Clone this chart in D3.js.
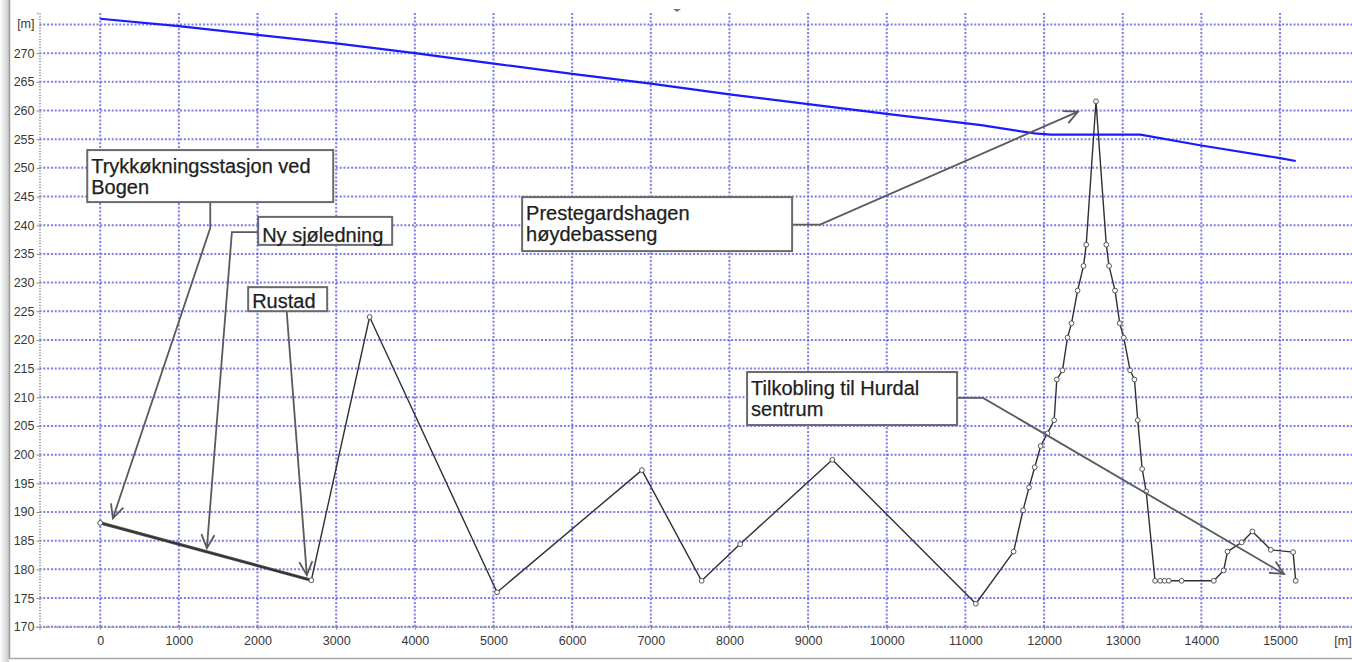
<!DOCTYPE html>
<html>
<head>
<meta charset="utf-8">
<script src="https://cdn.jsdelivr.net/npm/d3@7"></script>
<style>
  html, body { margin: 0; padding: 0; background: #ffffff; }
  svg { display: block; }
</style>
</head>
<body>
<svg id="chart" width="1352" height="662"></svg>
<script>
// ---------- DATA ----------
// Terrain / pipe profile: chainage [m] and elevation [m]
const profileX = [0, 2684, 3425, 5045, 6887, 7646, 8136, 9308, 11133, 11613, 11733, 11809, 11881, 11957,
  12043, 12128, 12162, 12234, 12298, 12349, 12426, 12502, 12536, 12660, 12791, 12826, 12902, 12962,
  13013, 13094, 13149, 13191, 13247, 13298, 13411, 13476, 13531, 13586, 13749, 14158, 14283, 14332,
  14512, 14649, 14883, 15166, 15199];
const profileZ = [188.1, 178.1, 224.0, 176.0, 197.3, 178.0, 184.4, 199.1, 174.0, 183.1, 190.3, 194.3, 197.8, 201.5,
  203.7, 206.0, 213.1, 214.7, 220.4, 222.9, 228.6, 232.9, 236.6, 261.6, 236.6, 232.9, 228.6, 222.9,
  220.4, 214.7, 213.1, 206.0, 197.5, 193.6, 178.0, 178.0, 178.0, 178.0, 178.0, 178.0, 179.8, 183.1,
  184.7, 186.6, 183.4, 183.0, 178.0];
// New sea pipeline section (drawn heavier)
const seaPipeX = [0, 2684];
const seaPipeZ = [188.1, 178.1];
// Hydraulic grade line (blue)
const hglX = [0, 1000, 2000, 3000, 4000, 5100, 6000, 7000, 8000, 9000, 10000, 11200, 11880, 12085, 13225, 14000, 15000, 15200];
const hglZ = [276.0, 274.7, 273.2, 271.7, 270.0, 268.0, 266.4, 264.7, 262.8, 261.1, 259.4, 257.45, 256.0, 255.8, 255.8, 253.9, 251.7, 251.2];
// Axis ticks
const xTicks = [0, 1000, 2000, 3000, 4000, 5000, 6000, 7000, 8000, 9000, 10000, 11000, 12000, 13000, 14000, 15000];
const yTicks = [170, 175, 180, 185, 190, 195, 200, 205, 210, 215, 220, 225, 230, 235, 240, 245, 250, 255, 260, 265, 270];
const unitLabel = "[m]";
// Annotation texts and the point (chainage, elevation) each arrow points at
const annoLines = [
  ["Trykkøkningsstasjon ved", "Bogen"],
  ["Ny sjøledning"],
  ["Rustad"],
  ["Prestegardshagen", "høydebasseng"],
  ["Tilkobling til Hurdal", "sentrum"]
];
const annoTipX = [161, 1356, 2627, 12432, 15050];
const annoTipZ = [188.9, 183.7, 179.0, 259.8, 179.2];

// ---------- LAYOUT ----------
const svg = d3.select("#chart");
const plot = { left: 39.5, right: 1352, top: 13, bottom: 626.7 };
const x = d3.scaleLinear().domain([-772, 15915]).range([plot.left, plot.right]);
const y = d3.scaleLinear().domain([170, 277]).range([plot.bottom, plot.top]);

// annotation box layout: anchor (data coords of box top-left), size in px, leader style
const annoLayout = [
  { bx: -165, bz: 253.1, w: 246, h: 52, leader: "bottom", ex: 1398, ez: 239.5, lx: 123 },
  { bx: 2008, bz: 241.45, w: 134, h: 28, leader: "left", ex: 1674, ez: 238.8 },
  { bx: 1881, bz: 229.2, w: 79, h: 24, leader: "bottom", lx: 38.5 },
  { bx: 5364, bz: 244.9, w: 270, h: 54, leader: "right", ex: 9152, ez: 240.1 },
  { bx: 8224, bz: 214.4, w: 210, h: 53, leader: "right", ex: 11224, ez: 209.9 }
];

// ---------- FRAME ----------
const defs = svg.append("defs");
const grad = defs.append("linearGradient").attr("id", "shadow").attr("x1", "0").attr("x2", "1");
grad.append("stop").attr("offset", "0").attr("stop-color", "#ffffff");
grad.append("stop").attr("offset", "1").attr("stop-color", "#c9c9c9");
svg.append("rect").attr("x", 0).attr("y", 0).attr("width", 9).attr("height", 662).attr("fill", "url(#shadow)");
svg.append("line").attr("x1", 9.5).attr("x2", 9.5).attr("y1", 0).attr("y2", 659)
  .attr("stroke", "#9a9a9a").attr("stroke-width", 1.5);
svg.append("line").attr("x1", 9).attr("x2", 1352).attr("y1", 658.5).attr("y2", 658.5)
  .attr("stroke", "#a8a8a8").attr("stroke-width", 1.5);

// ---------- GRID ----------
const gridColor = "#5c5ce6";
const grid = svg.append("g");
grid.selectAll("line.vg").data(xTicks).join("line")
  .attr("x1", d => x(d)).attr("x2", d => x(d))
  .attr("y1", plot.top).attr("y2", plot.bottom)
  .attr("stroke", gridColor).attr("stroke-width", 2).attr("stroke-dasharray", "2 1.8").attr("opacity", 0.8);
grid.selectAll("line.hg").data(yTicks.concat([275])).join("line")
  .attr("x1", plot.left).attr("x2", plot.right)
  .attr("y1", d => y(d)).attr("y2", d => y(d))
  .attr("stroke", gridColor).attr("stroke-width", 2).attr("stroke-dasharray", "2 1.8").attr("opacity", 0.8);

// ---------- AXES ----------
const axisColor = "#8a8a8a";
const labelFont = "'Liberation Sans', Arial, sans-serif";
const yAxis = d3.axisLeft(y).tickValues(yTicks).tickSize(3).tickFormat(d3.format("d"));
const gy = svg.append("g").attr("transform", `translate(${plot.left},0)`).call(yAxis);
const xAxis = d3.axisBottom(x).tickValues(xTicks).tickSize(3).tickPadding(6).tickFormat(d3.format("d"));
const gx = svg.append("g").attr("transform", `translate(0,${plot.bottom})`).call(xAxis);
[gx, gy].forEach(g => {
  g.select(".domain").attr("stroke", axisColor).attr("stroke-width", 1.5).attr("stroke-dasharray", "1.2 1.6");
  g.selectAll(".tick line").attr("stroke", axisColor);
  g.selectAll(".tick text").attr("fill", "#383838")
    .style("font-family", labelFont).style("font-size", "12.5px");
});
gy.selectAll(".tick text").attr("x", -5);
// unit labels
svg.append("text").attr("x", plot.left - 5).attr("y", y(275)).attr("dy", "0.32em")
  .attr("text-anchor", "end").attr("fill", "#383838")
  .style("font-family", labelFont).style("font-size", "12.5px").text(unitLabel);
svg.append("text").attr("x", 1343).attr("y", plot.bottom + 9).attr("dy", "0.71em")
  .attr("text-anchor", "middle").attr("fill", "#383838")
  .style("font-family", labelFont).style("font-size", "12.5px").text(unitLabel);
// small mark at the top
svg.append("path").attr("d", "M673,9 L681,9 L677,12 Z").attr("fill", "#777");

// ---------- PROFILE ----------
const profile = profileX.map((v, i) => [v, profileZ[i]]);
const line = d3.line().x(d => x(d[0])).y(d => y(d[1]));
svg.append("path").datum(seaPipeX.map((v, i) => [v, seaPipeZ[i]]))
  .attr("d", line).attr("fill", "none").attr("stroke", "#555").attr("stroke-width", 3.2);
svg.append("path").datum(profile).attr("d", line)
  .attr("fill", "none").attr("stroke", "#303030").attr("stroke-width", 1.4).attr("stroke-linejoin", "round");
svg.append("g").selectAll("circle").data(profile).join("circle")
  .attr("cx", d => x(d[0])).attr("cy", d => y(d[1])).attr("r", 2.4)
  .attr("fill", "#fff").attr("stroke", "#555").attr("stroke-width", 1);

// ---------- HGL ----------
svg.append("path").datum(hglX.map((v, i) => [v, hglZ[i]])).attr("d", line)
  .attr("fill", "none").attr("stroke", "#1a1aff").attr("stroke-width", 2.2).attr("stroke-linejoin", "round");

// ---------- ANNOTATIONS ----------
const leaderColor = "#5a5a5a";
const ag = svg.append("g");
function arrowHead(g, fx, fy, tx, ty) {
  const ang = Math.atan2(ty - fy, tx - fx);
  const L = 15, spread = 0.45;
  const p1 = [tx - L * Math.cos(ang - spread), ty - L * Math.sin(ang - spread)];
  const p2 = [tx - L * Math.cos(ang + spread), ty - L * Math.sin(ang + spread)];
  g.append("path").attr("d", `M${p1[0]},${p1[1]} L${tx},${ty} L${p2[0]},${p2[1]}`)
    .attr("fill", "none").attr("stroke", leaderColor).attr("stroke-width", 1.8);
}
annoLines.forEach((lines, i) => {
  const L = annoLayout[i];
  const bx = x(L.bx), by = y(L.bz);
  const tx = x(annoTipX[i]), ty = y(annoTipZ[i]);
  let pts;
  if (L.leader === "bottom") {
    const sx = bx + L.lx, sy = by + L.h;
    pts = L.ex !== undefined ? [[sx, sy], [sx, y(L.ez)], [tx, ty]] : [[sx, sy], [tx, ty]];
  } else if (L.leader === "left") {
    const sy = y(L.ez);
    pts = [[bx, sy], [x(L.ex), sy], [tx, ty]];
  } else {
    const sy = y(L.ez);
    pts = [[bx + L.w, sy], [x(L.ex), sy], [tx, ty]];
  }
  ag.append("path").attr("d", d3.line()(pts)).attr("fill", "none")
    .attr("stroke", leaderColor).attr("stroke-width", 1.8);
  const prev = pts[pts.length - 2];
  arrowHead(ag, prev[0], prev[1], tx, ty);
});
annoLines.forEach((lines, i) => {
  const L = annoLayout[i];
  const bx = x(L.bx), by = y(L.bz);
  ag.append("rect").attr("x", bx).attr("y", by).attr("width", L.w).attr("height", L.h)
    .attr("fill", "#fff").attr("stroke", "#6a6a6a").attr("stroke-width", 2);
  const t = ag.append("text").attr("fill", "#1e1e1e").attr("stroke", "#1e1e1e").attr("stroke-width", 0.25)
    .style("font-family", labelFont).style("font-size", "20px");
  lines.forEach((s, j) => {
    t.append("tspan").attr("x", bx + 4).attr("y", by + (L.h < 30 ? L.h - 3 : 22.5) + j * 21).text(s);
  });
});
</script>
</body>
</html>
